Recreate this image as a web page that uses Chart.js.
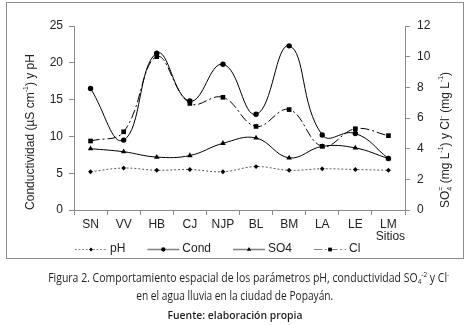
<!DOCTYPE html>
<html><head><meta charset="utf-8">
<script src="https://cdn.jsdelivr.net/npm/chart.js@4.4.0/dist/chart.umd.min.js"></script>
<style>
html,body{margin:0;padding:0;background:#fff;width:470px;height:325px;overflow:hidden}
#frame{position:absolute;left:6px;top:2px;width:456px;height:255px;border:1.5px solid #8a8a8a;}
#wrap{position:absolute;left:0;top:0;width:470px;height:325px}
.cap{position:absolute;left:0;width:470px;text-align:center;white-space:nowrap;color:#231f20;height:18px;line-height:18px}
.cap span.fit{display:inline-block;transform-origin:50% 50%}
sub,sup{font-size:8px;line-height:0;position:relative;vertical-align:baseline}
sub{top:2px} sup{top:-5px}
</style></head>
<body>
<div id="frame"></div>
<div id="wrap"><canvas id="c" width="470" height="325"></canvas></div>
<div class="cap" style="top:268px;font-family:'Open Sans';font-size:13px"><span class="fit" data-w="401">Figura 2. Comportamiento espacial de los parámetros pH, conductividad SO<sub>4</sub><sup>-2</sup> y Cl<sup>-</sup></span></div>
<div class="cap" style="top:286px;font-family:'Open Sans';font-size:13px"><span class="fit" data-w="197">en el agua lluvia en la ciudad de Popayán.</span></div>
<div class="cap" style="top:306px;font-family:'Open Sans';font-size:10px;font-weight:600"><span class="fit" data-w="135">Fuente: elaboración propia</span></div>
<script>
// ---- data ----
const categories = ['SN','VV','HB','CJ','NJP','BL','BM','LA','LE','LM'];
const phValues   = [5.2, 5.7, 5.4, 5.5, 5.2, 5.9, 5.4, 5.6, 5.5, 5.4];
const condValues = [16.5, 9.5, 21.3, 14.8, 19.8, 13.0, 22.3, 10.2, 10.4, 7.0];
const so4Values  = [4.0, 3.8, 3.45, 3.55, 4.35, 4.7, 3.4, 4.15, 4.05, 3.35];
const clValues   = [4.5, 5.1, 10.0, 6.95, 7.35, 5.45, 6.55, 4.15, 5.3, 4.85];
const leftTicks  = [0, 5, 10, 15, 20, 25];
const rightTicks = [0, 2, 4, 6, 8, 10, 12];
const seriesNames = ['pH', 'Cond', 'SO4', 'Cl'];
const xAxisTitle = 'Sitios';

// fit caption widths
document.querySelectorAll('span.fit').forEach(s => {
  const w = s.getBoundingClientRect().width;
  const t = parseFloat(s.dataset.w);
  s.style.transform = 'scaleX(' + (t / w) + ')';
});

const FONT = '"Liberation Sans", Arial, sans-serif';
const TXT = '#222';
const AX = '#8a8a8a';

function drawRich(ctx, segs, x, y, rot, size) {
  ctx.save();
  ctx.translate(x, y);
  ctx.rotate(rot);
  const small = Math.round(size * 0.62);
  let total = 0;
  const widths = segs.map(s => {
    ctx.font = (s.s ? small : size) + 'px ' + FONT;
    const w = ctx.measureText(s.t).width;
    if (!s.noAdvance) total += w;
    return w;
  });
  let cx = -total / 2;
  ctx.textBaseline = 'middle';
  ctx.textAlign = 'left';
  ctx.fillStyle = TXT;
  segs.forEach((s, i) => {
    ctx.font = (s.s ? small : size) + 'px ' + FONT;
    const dy = s.s === 1 ? -size * 0.4 : (s.s === -1 ? size * 0.3 : 0);
    ctx.fillText(s.t, cx, dy);
    if (!s.noAdvance) cx += widths[i];
  });
  ctx.restore();
}

const extras = {
  id: 'extras',
  afterDraw(chart) {
    const ctx = chart.ctx;
    const ca = chart.chartArea;
    const xs = chart.scales.x;
    ctx.save();
    ctx.font = '12px ' + FONT;
    ctx.fillStyle = TXT;
    ctx.textAlign = 'center';
    ctx.textBaseline = 'middle';
    ctx.fillText(xAxisTitle, xs.getPixelForValue(categories.length - 1) + 2, 237);
    ctx.restore();
    drawRich(ctx, [{t:'Conductividad (µS cm'},{t:'-1',s:1},{t:') y pH'}], 31, 132, -Math.PI/2, 12);
    drawRich(ctx, [{t:'SO'},{t:'4',s:-1,noAdvance:true},{t:'=',s:1},{t:' (mg L'},{t:'-1',s:1},{t:') y Cl'},{t:'-',s:1},{t:' (mg L'},{t:'-1',s:1},{t:')'}], 446, 140, -Math.PI/2, 12);
    // legend
    let lx = ca.left + 1;
    const ly = 249;
    ctx.save();
    ctx.font = '12px ' + FONT;
    chart.data.datasets.forEach(ds => {
      ctx.save();
      ctx.strokeStyle = '#808080';
      ctx.lineWidth = ds.borderDash ? 1 : 1.6;
      ctx.setLineDash(ds.borderDash ? ds.borderDash.map(v => v * 0.9) : []);
      ctx.beginPath();
      ctx.moveTo(lx, ly + 0.5);
      ctx.lineTo(lx + 32, ly + 0.5);
      ctx.stroke();
      ctx.restore();
      ctx.save();
      ctx.fillStyle = '#000';
      ctx.strokeStyle = '#000';
      Chart.helpers.drawPoint(ctx, {pointStyle: ds.pointStyle, radius: ds.pointRadius * 0.8, rotation: 0, borderWidth: 0}, lx + 16, ly + 0.5);
      ctx.restore();
      ctx.fillStyle = TXT;
      ctx.textAlign = 'left';
      ctx.textBaseline = 'middle';
      ctx.fillText(ds.label, lx + 35, ly);
      lx += 35 + ctx.measureText(ds.label).width + 22;
    });
    ctx.restore();
  }
};

new Chart(document.getElementById('c'), {
  type: 'line',
  data: {
    labels: categories,
    datasets: [
      {label: seriesNames[0], data: phValues, yAxisID: 'y', borderColor: '#555', borderWidth: 1, borderDash: [2,2],
       pointStyle: 'rectRot', pointRadius: 2.4, pointBorderWidth: 0, pointBackgroundColor: '#000', pointBorderColor: '#000', tension: 0.4},
      {label: seriesNames[1], data: condValues, yAxisID: 'y', borderColor: '#000', borderWidth: 1,
       pointStyle: 'circle', pointRadius: 2.7, pointBorderWidth: 0, pointBackgroundColor: '#000', pointBorderColor: '#000', tension: 0.45},
      {label: seriesNames[2], data: so4Values, yAxisID: 'y1', borderColor: '#000', borderWidth: 1,
       pointStyle: 'triangle', pointRadius: 3.2, pointBorderWidth: 0, pointBackgroundColor: '#000', pointBorderColor: '#000', tension: 0.4},
      {label: seriesNames[3], data: clValues, yAxisID: 'y1', borderColor: '#000', borderWidth: 1, borderDash: [9,3,2,3],
       pointStyle: 'rect', pointRadius: 3.3, pointBorderWidth: 0, pointBackgroundColor: '#000', pointBorderColor: '#000', tension: 0.4}
    ]
  },
  options: {
    responsive: false,
    animation: false,
    events: [],
    layout: {padding: {top: 26, bottom: 85, left: 0, right: 0}},
    plugins: {legend: {display: false}, tooltip: {enabled: false}, title: {display: false}},
    scales: {
      x: {
        offset: true,
        grid: {offset: true, drawOnChartArea: false, color: AX, tickLength: 5},
        border: {color: AX, width: 1},
        ticks: {font: {family: FONT, size: 12}, color: TXT, padding: 2, maxRotation: 0, autoSkip: false},
        afterFit: s => { s.height = 30; }
      },
      y: {
        position: 'left', min: 0, max: 25,
        afterBuildTicks: s => { s.ticks = leftTicks.map(v => ({value: v})); },
        grid: {drawOnChartArea: false, color: AX, tickLength: 5},
        border: {color: AX, width: 1},
        ticks: {font: {family: FONT, size: 12}, color: TXT, padding: 6},
        afterFit: s => { s.width = 74; }
      },
      y1: {
        position: 'right', min: 0, max: 12,
        afterBuildTicks: s => { s.ticks = rightTicks.map(v => ({value: v})); },
        grid: {drawOnChartArea: false, color: AX, tickLength: 5},
        border: {color: AX, width: 1},
        ticks: {font: {family: FONT, size: 12}, color: TXT, padding: 7},
        afterFit: s => { s.width = 65; }
      }
    }
  },
  plugins: [extras]
});
</script>
</body></html>
